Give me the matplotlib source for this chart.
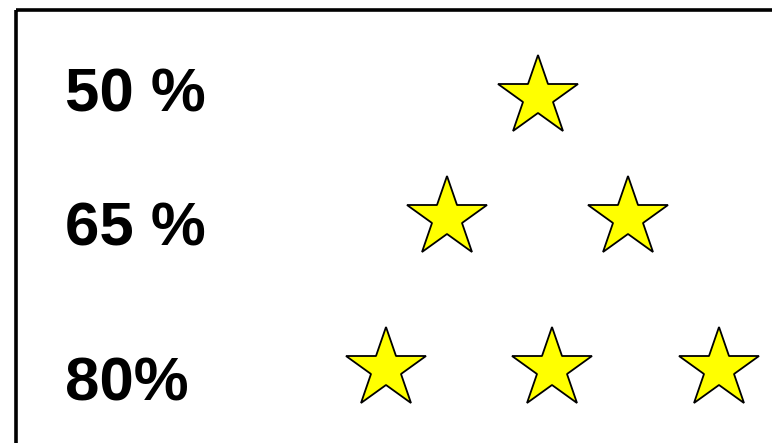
import matplotlib.pyplot as plt
from matplotlib.patches import Rectangle

# data
labels = ["50 %", "65 %", "80%"]
star_counts = [1, 2, 3]

# layout (pixels, figure is 772x443 at dpi 100)
label_x = 65
label_baseline = [111.5, 245.5, 400.5]
star_y = [96.5, 217.5, 368.5]
star_x = [[538], [446.5, 628], [386, 552, 718.5]]

fig = plt.figure(figsize=(7.72, 4.43), dpi=100)
ax = fig.add_axes([0, 0, 1, 1])
ax.set_xlim(0, 772)
ax.set_ylim(443, 0)
ax.axis("off")

# frame, runs off the right and bottom edges
ax.add_patch(Rectangle((15.5, 10), 900, 600, fill=False, edgecolor="black",
                       linewidth=2.6, clip_on=False))

for i, lab in enumerate(labels):
    ax.text(label_x, label_baseline[i], lab, fontsize=44.5, fontweight="bold",
            family="Liberation Sans", va="baseline", ha="left", color="black")
    xs = star_x[i][:star_counts[i]]
    ax.plot(xs, [star_y[i]] * len(xs), linestyle="none", marker="*",
            markersize=61, markerfacecolor="#ffff00", markeredgecolor="black",
            markeredgewidth=1.3)

fig.savefig("out.png", dpi=100)
